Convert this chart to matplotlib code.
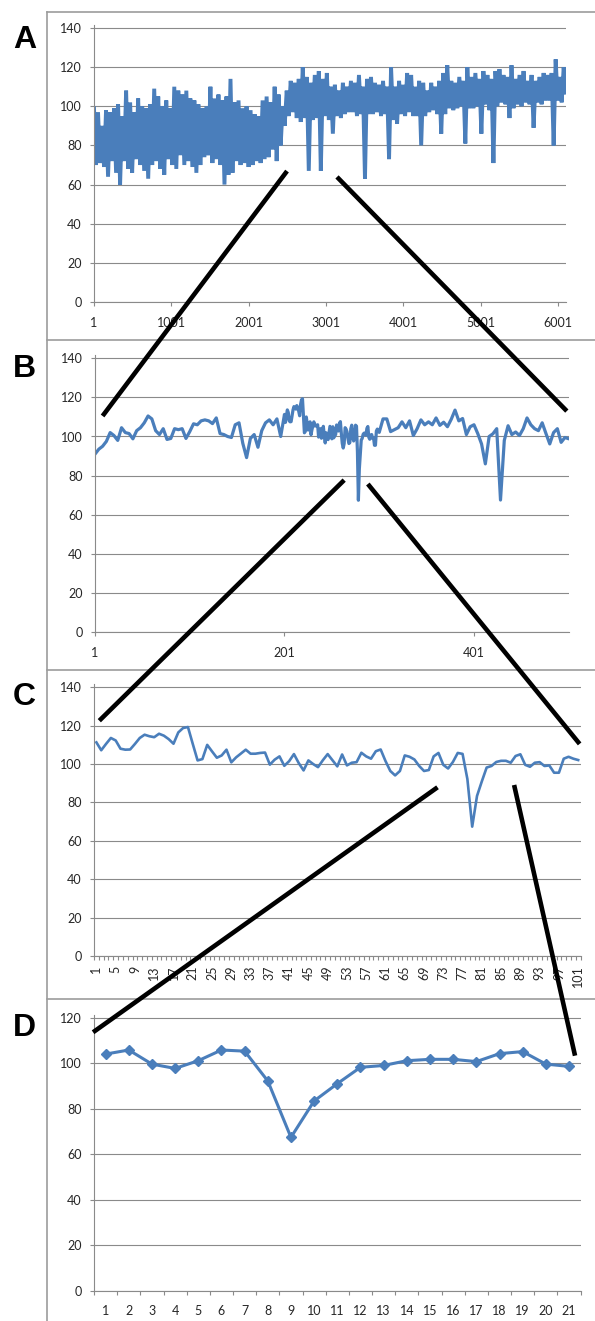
import numpy as np
import matplotlib
matplotlib.use("Agg")
import matplotlib.pyplot as plt
from matplotlib.patches import ConnectionPatch
from matplotlib.lines import Line2D

plt.rcParams['font.family'] = ['Lato', 'DejaVu Sans']

# ---------------- data ----------------
# Panel A: ~6100 samples; local high / low per ~52-sample bin (118 bins)
a_high = [99, 97, 90, 98, 97, 99, 101,
          95, 108, 102, 97,
          104, 100, 99, 101, 109, 105,
          100, 103, 99, 110, 108,
          106, 108, 104, 103, 101, 99,
          100, 110, 104, 106, 103,
          105, 114, 102, 103, 99,
          100, 98, 96, 95, 103,
          105, 102, 110, 106, 100,
          108, 113, 112, 114, 120,
          115, 112, 116, 118, 114, 117,
          110, 111, 108, 112, 110,
          113, 112, 116, 110, 114,
          115, 112, 111, 113, 110,
          120, 110, 113, 111, 117,
          116, 110, 113, 112, 108,
          112, 110, 113, 117, 121,
          113, 112, 115, 113, 120,
          115, 117, 114, 118, 116,
          114, 118, 119, 116, 115,
          121, 114, 116, 118, 113,
          116, 113, 115, 117, 116,
          117, 124, 115, 120]
a_low = [70, 71, 69, 64, 72, 66, 60,
         72, 68, 66, 73,
         70, 67, 63, 70, 72, 68,
         65, 73, 70, 68, 75,
         70, 72, 69, 66, 70, 74,
         75, 71, 73, 70, 60,
         65, 66, 72, 70, 71,
         69, 70, 72, 71, 73,
         74, 78, 72, 80, 90,
         95, 97, 94, 92, 94,
         67, 93, 94, 67, 95, 93,
         86, 95, 94, 96, 97,
         97, 95, 96, 63, 96,
         96, 97, 95, 96, 73,
         93, 91, 96, 95, 97,
         95, 95, 80, 95, 97,
         98, 96, 86, 96, 99,
         98, 99, 100, 81, 99,
         99, 100, 86, 101, 98,
         71, 100, 102, 101, 94,
         99, 101, 100, 102, 101,
         89, 102, 101, 103, 103,
         80, 103, 102, 107]
a_ticks = [1, 1001, 2001, 3001, 4001, 5001, 6001]

# Panel B: 500 samples; every 4th sample outside the zoomed window C
b_left_idx = list(range(1, 198, 4))
b_left = [91, 93.5, 95, 97.5, 102, 100.5, 98, 104.5, 102, 101.5,
          98.8, 103, 104.5, 107, 110.5, 109, 103, 101, 104, 98.5,
          99, 104, 103.5, 104, 99, 102.5, 106.5, 106, 108, 108.5,
          108, 106.6, 109.5, 101.5, 101, 100, 99.5, 106, 107, 96.5,
          89.2, 99, 101, 94.5, 103, 107, 108.5, 106, 109, 100]
b_right_idx = list(range(305, 498, 4)) + [500]
b_right = [109, 109, 102.5, 103.5, 104.5, 107.5, 104.5, 108, 100.5, 104,
           108.5, 106, 107.5, 106, 109.5, 105.7, 107.3, 105, 108.8, 113.5,
           108, 109.2, 101, 105, 106, 101.5, 96.2, 86, 100, 101.4,
           104, 67.5, 98, 105.5, 101, 102.3, 100.5, 104, 109.5, 106,
           104, 103, 107, 101.5, 96.2, 102, 104, 97, 99.5, 99]
b_ticks = [1, 201, 401]
c_start_in_b = 201

# Panel C: samples 1..101 (= B samples 201..301)
c_vals = [111.3, 107.2, 110.5, 113.6, 112.3, 108, 107.5, 107.6, 110.5, 113.6,
          115.3, 114.5, 114, 115.8, 114.8, 113, 110.6, 116.5, 118.8, 119.3,
          110.5, 101.9, 102.6, 110, 106.6, 103.3, 104.5, 107.5, 100.9, 103.5,
          105.5, 107.5, 105.4, 105.4, 105.8, 106, 99.7, 102.3, 104, 99.1,
          101.5, 105.2, 100.5, 96.7, 101.9, 100, 98.4, 102, 105.2, 102,
          98.8, 105, 99.3, 100.7, 101, 105.9, 104, 102.8, 106.7, 107.6,
          101.6, 96.4, 94.1, 96.4, 104.5, 103.8, 102.4, 99, 96.4, 96.9,
          104.0, 105.8, 99.6, 97.7, 101.1, 105.8, 105.3, 92.2, 67.4, 83.4,
          91.0, 98.2, 99.0, 101.1, 101.7, 101.7, 100.7, 104.2, 105.1, 99.6,
          98.6, 100.7, 101, 99, 99.3, 95.5, 95.5, 102.8, 103.8, 102.8, 102.1]
c_labels = list(range(1, 102, 4))
d_start_in_c = 71

# Panel D: samples 1..21 (= C samples 71..91)
d_vals = c_vals[d_start_in_c - 1:d_start_in_c - 1 + 21]
d_cats = list(range(1, 22))

# ---------------- figure ----------------
W, H = 595, 1321
fig = plt.figure(figsize=(W / 100, H / 100), dpi=100)
BLUE = '#4a7ebb'
GRID = '#8a8a8a'
FRAME = '#9c9c9c'
LBL = '#262626'


def make_axes(left, right, y0, ytop, ymax, pad=3):
    ppu = (y0 - ytop) / ymax
    top = ytop - pad
    ax = fig.add_axes([left / W, 1 - y0 / H, (right - left) / W, (y0 - top) / H])
    ax.set_ylim(0, ymax + pad / ppu)
    ax.set_yticks(range(0, ymax + 1, 20))
    ax.grid(axis='y', color=GRID, lw=0.8)
    ax.set_axisbelow(True)
    ax.patch.set_alpha(0)
    for s in ['top', 'right']:
        ax.spines[s].set_visible(False)
    for s in ['left', 'bottom']:
        ax.spines[s].set_color(GRID)
        ax.spines[s].set_linewidth(0.8)
    ax.tick_params(axis='y', length=3, width=0.8, color=GRID, pad=6,
                   labelsize=9, labelcolor=LBL)
    ax.tick_params(axis='x', which='both', length=3, width=0.8, color=GRID,
                   pad=8, labelsize=9, labelcolor=LBL)
    return ax


# Panel A
axA = make_axes(94, 566, 302, 28, 140)
a_vals = np.column_stack([a_high, a_low]).ravel()
a_x = np.linspace(1, 6100, len(a_vals))
axA.plot(a_x, a_vals, color=BLUE, lw=2.8, solid_joinstyle='miter')
axA.set_xlim(1, 6104)
axA.set_xticks(a_ticks)
axA.set_xticklabels([str(t) for t in a_ticks])

# Panel B
axB = make_axes(95, 569, 632, 358.3, 140)
b_x = b_left_idx + list(range(c_start_in_b, c_start_in_b + len(c_vals))) + b_right_idx
b_y = b_left + c_vals + b_right
axB.plot(b_x, b_y, color=BLUE, lw=2.3, solid_joinstyle='round')
axB.set_xlim(1, 501.3)
axB.set_xticks(b_ticks)
axB.set_xticklabels([str(t) for t in b_ticks])

# Panel C
axC = make_axes(94, 580.6, 956, 687.3, 140)
c_x = np.arange(1, len(c_vals) + 1)
axC.plot(c_x, c_vals, color=BLUE, lw=1.9, solid_joinstyle='round')
axC.set_xlim(0.5, len(c_vals) + 0.5)
axC.set_xticks(c_labels)
axC.set_xticklabels([str(t) for t in c_labels], rotation=90)
axC.set_xticks(np.arange(0.5, len(c_vals) + 1, 1), minor=True)
axC.tick_params(axis='x', which='major', length=0, pad=7)
axC.tick_params(axis='x', which='minor', length=3)

# Panel D
axD = make_axes(94, 580.6, 1290.7, 1017.7, 120)
axD.plot(d_cats, d_vals, color=BLUE, lw=2.2, marker='D', ms=5.5,
         solid_joinstyle='round')
axD.set_xlim(0.5, len(d_cats) + 0.5)
axD.set_xticks(d_cats)
axD.set_xticklabels([str(t) for t in d_cats])
axD.set_xticks(np.arange(0.5, len(d_cats) + 1, 1), minor=True)
axD.tick_params(axis='x', which='major', length=0, pad=10)
axD.tick_params(axis='x', which='minor', length=3)

# panel frames
def fline(x0, y0, x1, y1, lw=1.2):
    fig.add_artist(Line2D([x0 / W, x1 / W], [1 - y0 / H, 1 - y1 / H],
                          color=FRAME, lw=lw, transform=fig.transFigure))

fline(47, 12, W, 12)
fline(47, 340, W, 340)
fline(47, 670, W, 670)
fline(47, 999, W, 999)
fline(47, 12, 47, H)

# panel letters
for letter, base in [('A', 48), ('B', 376.5), ('C', 705), ('D', 1036.5)]:
    fig.text(24.7 / W, 1 - base / H, letter, ha='center', va='baseline',
             fontsize=23, fontweight='bold', family=['Liberation Sans', 'DejaVu Sans'])

# zoom connectors
links = [
    (axA, (2497, 66.9), axB, (9, 110.5)),
    (axA, (3143, 63.9), axB, (499, 113)),
    (axB, (264, 77.7), axC, (1.6, 122.6)),
    (axB, (289, 75.7), axC, (101.3, 110.5)),
    (axC, (71.8, 87.9), axD, (0.46, 113.6)),
    (axC, (87.7, 89.1), axD, (21.26, 103.3)),
]
for a1, p1, a2, p2 in links:
    con = ConnectionPatch(xyA=p1, coordsA='data', axesA=a1,
                          xyB=p2, coordsB='data', axesB=a2,
                          color='black', lw=3.3, capstyle='butt', zorder=20)
    con.set_annotation_clip(False)
    fig.add_artist(con)

fig.savefig('out.png', dpi=100)
